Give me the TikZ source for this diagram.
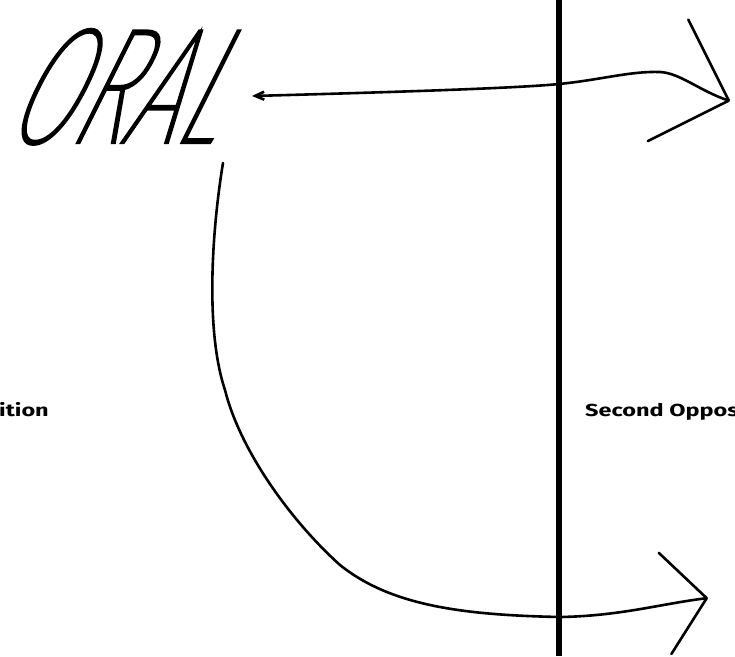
\documentclass[tikz,border=0pt]{standalone}
\usepackage{fontspec}
\setmainfont{Fira Sans}
\newfontfamily\oralfont{Fira Sans Thin}[FakeSlant=0.5,FakeStretch=0.56,FakeBold=1.5]
\newfontfamily\headfont{Fira Sans Bold}[FakeStretch=1.35]
\usetikzlibrary{arrows.meta,positioning}

\begin{document}
\begin{tikzpicture}[
  x=1pt,y=-1pt,
  pen/.style={line width=2.6pt,line cap=round,line join=round},
  divider/.style={line width=6pt},
  heading/.style={font=\headfont\fontsize{17.4}{20}\selectfont,inner sep=0pt},
  hand/.style={font=\oralfont\fontsize{165}{165}\selectfont,inner sep=0pt,
               text height=118pt,text depth=0pt},
  lowbarb/.style={-{Straight Barb[length=42pt,width=102pt,round]}}
]
\useasboundingbox (0,0) rectangle (735,656);
\node[hand,anchor=base west] (oral) at (2,143) {ORAL};
\node[heading,anchor=base east] (first) at (49,416) {ition};
\node[heading,anchor=base west] (second) at (585,416) {Second Oppos};
\coordinate (divtop) at (559,0);
\coordinate (divbot) at (559,656);
\coordinate (start) at (252,96);
\coordinate (cstart) at (223,163);
\coordinate (tipA) at (730,101);
\coordinate (tipB) at (708,598);
% divider
\draw[divider] (divtop) -- (divbot);
% top connector
\draw[pen,{Straight Barb[length=9pt,width=8pt]}-{Straight Barb[length=64pt,width=128pt,round]}]
  (start) .. controls (400,92) and (520,88) .. (559,84)
  .. controls (600,80) and (630,71) .. (660,72)
  .. controls (680,73) and (700,91) .. (tipA);
% lower connector
\draw[pen,lowbarb] (cstart) .. controls (212,230) and (205,330) .. (225,390)
  .. controls (240,450) and (290,520) .. (340,565)
  .. controls (390,605) and (460,615) .. (560,617)
  .. controls (620,616) and (660,604) .. (tipB);
\end{tikzpicture}
\end{document}
